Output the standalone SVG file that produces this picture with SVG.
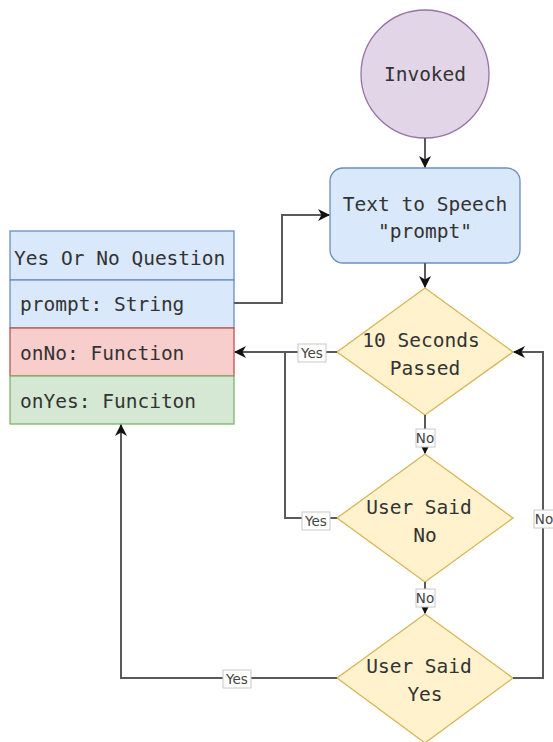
<svg xmlns="http://www.w3.org/2000/svg" width="553" height="742" viewBox="0 0 553 742">
<style>
.t{font-family:"DejaVu Sans Mono","Liberation Mono",monospace;font-size:19.5px;fill:#333;dominant-baseline:central}
.c{text-anchor:middle}
.e{fill:none;stroke:#5a5a5a;stroke-width:2}
.lb{fill:#fff;stroke:#c8c8c8;stroke-width:1}
.lt{font-family:"DejaVu Sans",Verdana,sans-serif;font-size:13.5px;fill:#444;text-anchor:middle;dominant-baseline:central}
</style>
<defs>
<marker id="a" viewBox="0 0 12 12" refX="11" refY="6" markerWidth="12" markerHeight="12" markerUnits="userSpaceOnUse" orient="auto">
<path d="M0,0 L12,6 L0,12 L3.5,6 Z" fill="#111"/>
</marker>
</defs>
<rect width="553" height="742" fill="#fff"/>
<g id="invoked">
<circle cx="425" cy="74" r="64" fill="#e1d5e7" stroke="#9673a6" stroke-width="1.3"/>
<text class="t c" x="425" y="74">Invoked</text>
</g>
<g id="tts">
<rect x="330" y="168" width="190" height="95" rx="13" fill="#dae8fc" stroke="#6c8ebf" stroke-width="1.3"/>
<text class="t c" x="425" y="204">Text to Speech</text>
<text class="t c" x="425" y="231">"prompt"</text>
</g>
<g id="class">
<rect x="10" y="231" width="224" height="49" fill="#dae8fc" stroke="#6c8ebf" stroke-width="1.3"/>
<text class="t" x="14" y="258">Yes Or No Question</text>
<rect x="10" y="280" width="224" height="48" fill="#dae8fc" stroke="#6c8ebf" stroke-width="1.3"/>
<text class="t" x="20" y="304">prompt: String</text>
<rect x="10" y="328" width="224" height="48" fill="#f8cecc" stroke="#b85450" stroke-width="1.3"/>
<text class="t" x="20" y="353">onNo: Function</text>
<rect x="10" y="376" width="224" height="48" fill="#d5e8d4" stroke="#82b366" stroke-width="1.3"/>
<text class="t" x="20" y="401">onYes: Funciton</text>
</g>
<g id="d1">
<polygon points="425,288 513,352 425,415 337,352" fill="#fff2cc" stroke="#d6b656" stroke-width="1.3"/>
<text class="t c" x="421" y="340">10 Seconds</text>
<text class="t c" x="425" y="368">Passed</text>
</g>
<g id="d2">
<polygon points="425,454 513,518 425,582 337,518" fill="#fff2cc" stroke="#d6b656" stroke-width="1.3"/>
<text class="t c" x="419" y="507">User Said</text>
<text class="t c" x="425" y="535">No</text>
</g>
<g id="d3">
<polygon points="425,614 513,678 425,743 337,678" fill="#fff2cc" stroke="#d6b656" stroke-width="1.3"/>
<text class="t c" x="419" y="666">User Said</text>
<text class="t c" x="425" y="694">Yes</text>
</g>
<g id="connectors">
<path class="e" d="M425,138 V167" marker-end="url(#a)"/>
<path class="e" d="M234,303 H282 V215 H329" marker-end="url(#a)"/>
<path class="e" d="M425,263 V287" marker-end="url(#a)"/>
<path class="e" d="M337,352 H235" marker-end="url(#a)"/>
<path class="e" d="M337,518 H285 V352"/>
<path class="e" d="M425,415 V453" marker-end="url(#a)"/>
<path class="e" d="M425,582 V613" marker-end="url(#a)"/>
<path class="e" d="M513,678 H543 V352 H514" marker-end="url(#a)"/>
<path class="e" d="M337,678 H121 V425" marker-end="url(#a)"/>
<rect class="lb" x="298" y="344" width="28" height="18"/>
<text class="lt" x="312" y="353">Yes</text>
<rect class="lb" x="302" y="512" width="28" height="18"/>
<text class="lt" x="316" y="521">Yes</text>
<rect class="lb" x="416" y="429" width="19" height="18"/>
<text class="lt" x="425" y="438">No</text>
<rect class="lb" x="416" y="589" width="19" height="18"/>
<text class="lt" x="425" y="598">No</text>
<rect class="lb" x="534" y="510" width="20" height="18"/>
<text class="lt" x="544" y="519">No</text>
<rect class="lb" x="223" y="670" width="28" height="18"/>
<text class="lt" x="237" y="679">Yes</text>
</g>
</svg>
